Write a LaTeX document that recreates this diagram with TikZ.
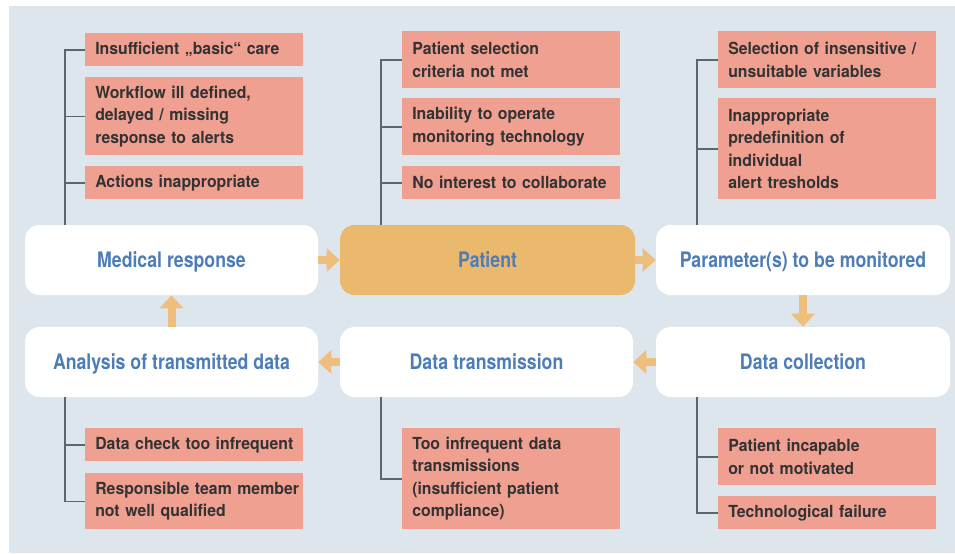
\documentclass[tikz,border=0pt]{standalone}
\usepackage{fontspec}
\setmainfont{TeX Gyre Heros}
\newfontfamily\boxfont{TeX Gyre Heros}[FakeStretch=0.95]
\newfontfamily\titlefont{TeX Gyre Heros}[FakeStretch=0.83]
\usetikzlibrary{arrows.meta}
\newdimen\pxu \pxu=0.75pt
\newcommand{\mb}[1]{\mbox{#1}}
\definecolor{bgc}{HTML}{DDE5ED}
\definecolor{redc}{HTML}{F0A091}
\definecolor{orc}{HTML}{EBB96E}
\definecolor{arc}{HTML}{EEBE7D}
\definecolor{bluet}{HTML}{4D7DB8}
\definecolor{darkt}{HTML}{333333}
\definecolor{linec}{HTML}{5B6670}
\begin{document}
\begin{tikzpicture}[x=0.75pt,y=-0.75pt,
  mainbox/.style={rounded corners=11pt, fill=white, minimum height=70\pxu, inner sep=0pt,
    text height=11.5pt, text depth=0pt,
    text=bluet, font=\titlefont\bfseries\fontsize{16}{19}\selectfont},
  patbox/.style={mainbox, fill=orc},
  redbox/.style={fill=redc, anchor=north west, text width=198\pxu, inner xsep=10\pxu, inner ysep=0pt,
    align=left, text=darkt, font=\boxfont\bfseries\fontsize{12.5}{16.9}\selectfont},
  tree/.style={draw=linec, line width=1.1pt},
  flow/.style={draw=arc, line width=6pt, -{Triangle[width=17.25pt,length=9.75pt]}}
]
\useasboundingbox (0,0) rectangle (955,553);
\fill[bgc] (9,6) rectangle (955,553);

% main cycle
\node[mainbox, minimum width=293\pxu] (med) at (171.5,260) {Medical response};
\node[patbox,  minimum width=295\pxu] (pat) at (487.5,260) {Patient};
\node[mainbox, minimum width=294\pxu] (par) at (803,260) {Parameter(s) to be monitored};
\node[mainbox, minimum width=293\pxu] (ana) at (171.5,362) {Analysis of transmitted data};
\node[mainbox, minimum width=293\pxu] (dtx) at (486.5,362) {Data transmission};
\node[mainbox, minimum width=294\pxu] (dcol) at (803,362) {Data collection};

\draw[flow] (med.east) -- (pat.west);
\draw[flow] (pat.east) -- (par.west);
\draw[flow] (par.south) -- (dcol.north);
\draw[flow] (dcol.west) -- (dtx.east);
\draw[flow] (dtx.west) -- (ana.east);
\draw[flow] (ana.north) -- (med.south);

% top left
\node[redbox, minimum height=33\pxu] (m1) at (85,33) {\mb{Insufficient „basic“ care}};
\node[redbox, minimum height=78\pxu] (m2) at (85,77) {\mb{Workflow ill defined,}\\\mb{delayed / missing}\\\mb{response to alerts}};
\node[redbox, minimum height=33\pxu] (m3) at (85,166) {\mb{Actions inappropriate}};
\coordinate (lx1) at (65,0);
\draw[tree] (m1.west) -- (m1.west -| lx1) -- (lx1 |- med.north);
\draw[tree] (m2.west) -- (m2.west -| lx1);
\draw[tree] (m3.west) -- (m3.west -| lx1);

% top middle
\node[redbox, minimum height=57\pxu] (p1) at (402,31) {\mb{Patient selection}\\\mb{criteria not met}};
\node[redbox, minimum height=57\pxu] (p2) at (402,98) {\mb{Inability to operate}\\\mb{monitoring technology}};
\node[redbox, minimum height=33\pxu] (p3) at (402,166) {\mb{No interest to collaborate}};
\coordinate (lx2) at (381,0);
\draw[tree] (p1.west) -- (p1.west -| lx2) -- (lx2 |- pat.north);
\draw[tree] (p2.west) -- (p2.west -| lx2);
\draw[tree] (p3.west) -- (p3.west -| lx2);

% top right
\node[redbox, minimum height=57\pxu] (r1) at (718,31) {\mb{Selection of insensitive /}\\\mb{unsuitable variables}};
\node[redbox, minimum height=101\pxu] (r2) at (718,98) {\mb{Inappropriate}\\\mb{predefinition of}\\\mb{individual}\\\mb{alert tresholds}};
\coordinate (lx3) at (697,0);
\draw[tree] (r1.west) -- (r1.west -| lx3) -- (lx3 |- par.north);
\draw[tree] (r2.west) -- (r2.west -| lx3);

% bottom left
\node[redbox, minimum height=33\pxu] (a1) at (85,428) {\mb{Data check too infrequent}};
\node[redbox, minimum height=56\pxu] (a2) at (85,473) {\mb{Responsible team member}\\\mb{not well qualified}};
\draw[tree] (ana.south -| lx1) |- (a2.west);
\draw[tree] (a1.west) -- (a1.west -| lx1);

% bottom middle
\node[redbox, minimum height=101\pxu] (t1) at (402,428) {\mb{Too infrequent data}\\\mb{transmissions}\\\mb{(insufficient patient}\\\mb{compliance)}};
\draw[tree] (dtx.south -| lx2) |- (t1.west);

% bottom right
\node[redbox, minimum height=57\pxu] (c1) at (718,428) {\mb{Patient incapable}\\\mb{or not motivated}};
\node[redbox, minimum height=33\pxu] (c2) at (718,496) {\mb{Technological failure}};
\draw[tree] (dcol.south -| lx3) |- (c2.west);
\draw[tree] (c1.west) -- (c1.west -| lx3);
\end{tikzpicture}
\end{document}
